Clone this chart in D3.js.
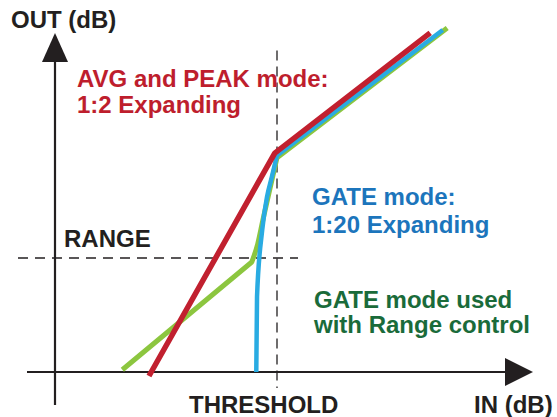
<!DOCTYPE html>
<html>
<head>
<meta charset="utf-8">
<script src="https://cdn.jsdelivr.net/npm/d3@7"></script>
<style>
	body { margin: 0; background: #fff; }
	text { font-family: "Liberation Sans", Arial, sans-serif; font-weight: bold; }
</style>
</head>
<body>
<svg id="chart"></svg>
<script>
/*************** data (dB) ***************************************/
var threshold = -22,	//IN level of the threshold
	rangeLevel = -40;	//OUT level set by the range control

//AVG and PEAK mode, 1:2 expanding
var avgPeakIn  = [-39.3, -22.3, -1.3],
	avgPeakOut = [-60.7, -21.6, -0.5];

//GATE mode, 1:20 expanding (first point -> knee is the bent part)
var gateIn  = [-24.8, -24.7, -24.0, -23.35, -22.7, -22, 0.4],
	gateOut = [-60, -46.8, -35.1, -29.3, -25.8, -22, 0];

//GATE mode with range control (straight up to the range, bent up to the knee)
var rangeIn  = [-42.9, -25.4, -24.6, -23.9, -23.0, -22, 1.0],
	rangeOut = [-59.6, -40.7, -37.5, -33.3, -28.1, -22.4, 0.35];

var labels = {
	yAxis: "OUT (dB)",
	xAxis: "IN (dB)",
	threshold: "THRESHOLD",
	range: "RANGE",
	avgPeak: ["AVG and PEAK mode:", "1:2 Expanding"],
	gate: ["GATE mode:", "1:20 Expanding"],
	gateRange: ["GATE mode used", "with Range control"]
};
/*************** end data *****************/

var width = 557,
	height = 417,
	ink = "#231f20",
	red = "#c1202f",
	blue = "#29abe2",
	green = "#8cc63f";

var svg = d3.select("#chart")
	.attr("width", width)
	.attr("height", height);

/*********** scales ***********/
var x = d3.scaleLinear().domain([-52, 13]).range([55, 536]);
var y = d3.scaleLinear().domain([-60, 0]).range([372, 30]);

var x0 = x(-52), y0 = y(-60);	//origin of the axes

/*********** dashed guides ***********/
svg.append("line")
	.attr("x1", x(threshold)).attr("x2", x(threshold))
	.attr("y1", y(-3.6)).attr("y2", y0 + 16)
	.attr("stroke", ink).attr("stroke-width", 1.3)
	.attr("stroke-dasharray", "10,6");

svg.append("line")
	.attr("x1", x0 - 37).attr("x2", x(threshold) + 21)
	.attr("y1", y(rangeLevel)).attr("y2", y(rangeLevel))
	.attr("stroke", ink).attr("stroke-width", 1.3)
	.attr("stroke-dasharray", "10,7");

/*********** axes ***********/
svg.append("line")
	.attr("x1", x0).attr("x2", x0)
	.attr("y1", y0 + 33).attr("y2", 60)
	.attr("stroke", ink).attr("stroke-width", 2.2);

svg.append("path")
	.attr("d", "M" + x0 + ",33L" + (x0 - 13) + ",62L" + (x0 + 13) + ",62Z")
	.attr("fill", ink);

svg.append("line")
	.attr("x1", x0 - 28).attr("x2", 507)
	.attr("y1", y0).attr("y2", y0)
	.attr("stroke", ink).attr("stroke-width", 2.2);

svg.append("path")
	.attr("d", "M533," + y0 + "L505," + (y0 - 14) + "L505," + (y0 + 14) + "Z")
	.attr("fill", ink);

/*********** curves ***********/
function pairs(ins, outs) {
	return ins.map(function(d, i) { return [d, outs[i]]; });
}

var smooth = d3.line()
	.x(function(d) { return x(d[0]); })
	.y(function(d) { return y(d[1]); })
	.curve(d3.curveMonotoneX);

var straight = d3.line()
	.x(function(d) { return x(d[0]); })
	.y(function(d) { return y(d[1]); });

//straight pieces before "from" and after "to", smooth bend in between
function bent(pts, from, to) {
	var d = "";
	if (from > 0) d += straight(pts.slice(0, from + 1));
	var mid = smooth(pts.slice(from, to + 1));
	d += from > 0 ? "L" + mid.slice(1) : mid;
	d += "L" + straight(pts.slice(to)).slice(1);
	return d;
}

svg.append("path")
	.attr("d", bent(pairs(rangeIn, rangeOut), 1, 5))
	.attr("fill", "none").attr("stroke", green).attr("stroke-width", 5)
	.attr("stroke-linejoin", "round");

svg.append("path")
	.attr("d", bent(pairs(gateIn, gateOut), 0, 5))
	.attr("fill", "none").attr("stroke", blue).attr("stroke-width", 4.5)
	.attr("stroke-linejoin", "round");

svg.append("path")
	.attr("d", straight(pairs(avgPeakIn, avgPeakOut)))
	.attr("fill", "none").attr("stroke", red).attr("stroke-width", 5.5)
	.attr("stroke-linejoin", "round");

/*********** texts ***********/
function label(lines, px, py, color, lineGap) {
	var t = svg.append("text")
		.attr("x", px).attr("y", py)
		.attr("fill", color)
		.style("font-size", "24px");
	lines.forEach(function(s, i) {
		t.append("tspan").attr("x", px).attr("dy", i ? lineGap : 0).text(s);
	});
}

label([labels.yAxis], 11, 28, ink, 0);
label([labels.xAxis], 474, 413, ink, 0);
label([labels.threshold], 189, 413, ink, 0);
label([labels.range], 64, 247, ink, 0);
label(labels.avgPeak, 77, 87, "#be1e2d", 26);
label(labels.gate, 312, 205, "#1c75bc", 28);
label(labels.gateRange, 314, 308, "#1a6b3a", 25);
</script>
</body>
</html>
